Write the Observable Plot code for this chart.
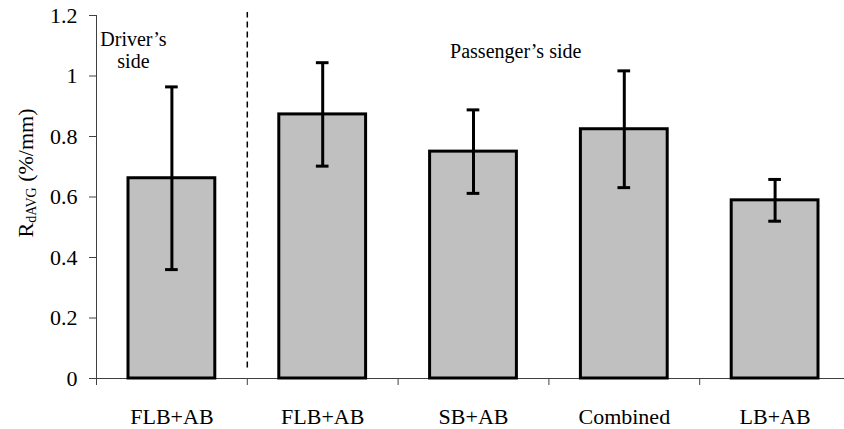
<!DOCTYPE html>
<html><head><meta charset="utf-8">
<script src="https://cdn.jsdelivr.net/npm/d3@7"></script>
<script src="https://cdn.jsdelivr.net/npm/@observablehq/plot@0.6"></script>
<style>body{margin:0;background:#fff}</style>
</head><body><div id="chart"></div>
<script>
const categories = ["FLB+AB", "FLB+AB", "SB+AB", "Combined", "LB+AB"];
const means = [0.662, 0.873, 0.750, 0.824, 0.589];
const errors = [0.302, 0.171, 0.138, 0.193, 0.069];
const yTicks = [0, 0.2, 0.4, 0.6, 0.8, 1, 1.2];
const yTickLabels = ["0", "0.2", "0.4", "0.6", "0.8", "1", "1.2"];
const groupBoundaries = [1];
const annotationText = ["Driver’s\nside", "Passenger’s side"];
const annotationX = [0.245, 2.78];
const annotationY = [1.026, 1.061];
const annotationAnchor = ["start", "middle"];

const data = categories.map((c, i) => ({
  cat: c, x1: i, x2: i + 1, xc: i + 0.5,
  mean: means[i], lo: means[i] - errors[i], hi: means[i] + errors[i]
}));
const notes = annotationText.map((t, i) => ({t, x: annotationX[i], y: annotationY[i], a: annotationAnchor[i]}));
const bandEdges = d3.range(categories.length + 1);
const bandCenters = categories.map((c, i) => i + 0.5);
const axisColor = "#404040";
const font = "Liberation Serif";

const svg = Plot.plot({
  width: 844, height: 429,
  marginLeft: 96, marginRight: 0, marginTop: 15, marginBottom: 51,
  style: {background: "white", color: "black"},
  x: {type: "linear", domain: [0, categories.length], range: [96, 850]},
  y: {domain: [0, 1.2], range: [378, 15]},
  marks: [
    Plot.ruleX([0], {y1: 0, y2: 1.2, stroke: axisColor}),
    Plot.ruleY([0], {stroke: axisColor}),
    Plot.axisX({ticks: bandEdges, tickSize: 7, tickFormat: () => "", stroke: axisColor, label: null}),
    Plot.axisX({ticks: bandCenters, tickSize: 0, tickPadding: 30, fontSize: 22, fontFamily: font, fill: "black",
      tickFormat: d => categories[Math.floor(d)], label: null}),
    Plot.axisY({ticks: yTicks, tickSize: 7, tickPadding: 12, fontSize: 22, fontFamily: font, fill: "black", stroke: axisColor,
      tickFormat: d => yTickLabels[yTicks.indexOf(d)], label: null}),
    Plot.ruleX(groupBoundaries, {y1: 0.035, y2: 1.21, stroke: "black", strokeWidth: 1.5, strokeDasharray: "6,4"}),
    Plot.rect(data, {x1: "x1", x2: "x2", y1: 0, y2: "mean", insetLeft: 32, insetRight: 32,
      fill: "#c0c0c0", stroke: "black", strokeWidth: 3}),
    Plot.ruleX(data, {x: "xc", y1: "lo", y2: "hi", stroke: "black", strokeWidth: 3}),
    Plot.ruleY(data, {y: "hi", x1: d => d.xc - 0.042, x2: d => d.xc + 0.042, stroke: "black", strokeWidth: 3}),
    Plot.ruleY(data, {y: "lo", x1: d => d.xc - 0.042, x2: d => d.xc + 0.042, stroke: "black", strokeWidth: 3}),
    Plot.text(notes, {x: "x", y: "y", text: "t", textAnchor: d => d.a, lineAnchor: "bottom", lineHeight: 1.1,
      fontSize: 20, fontFamily: font, fill: "black"})
  ]
});

// y-axis label with subscript
const lab = d3.select(svg).append("text")
  .attr("transform", "translate(33,173) rotate(-90)")
  .attr("text-anchor", "middle")
  .attr("font-family", font)
  .attr("font-size", 22)
  .attr("fill", "black");
lab.append("tspan").text("R");
lab.append("tspan").attr("font-size", 14).attr("dy", 3).text("dAVG");
lab.append("tspan").attr("dy", -3).text(" (%/mm)");

document.getElementById("chart").appendChild(svg);

function forceSerif() {
  document.querySelectorAll("svg, svg g, svg text, svg tspan").forEach(el => {
    el.setAttribute("font-family", font);
    el.style.setProperty("font-family", font, "important");
  });
}
forceSerif();
requestAnimationFrame(forceSerif);
setTimeout(forceSerif, 0);
setTimeout(forceSerif, 100);
</script>
</body></html>
